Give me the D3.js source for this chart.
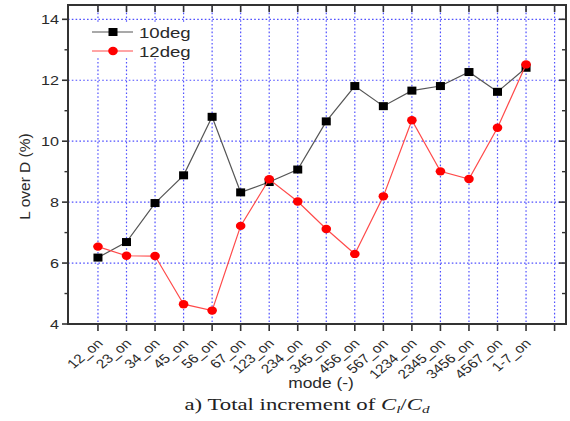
<!DOCTYPE html>
<html>
<head>
<meta charset="utf-8">
<script src="https://cdn.jsdelivr.net/npm/d3@7"></script>
<style>
  html, body { margin: 0; padding: 0; background: #fff; }
  svg { display: block; }
</style>
</head>
<body>
<script>
// Categories (switching modes) and the two lift-over-drag series
const modes = ["12_on", "23_on", "34_on", "45_on", "56_on", "67_on", "123_on", "234_on",
  "345_on", "456_on", "567_on", "1234_on", "2345_on", "3456_on", "4567_on", "1-7_on"];
const deg10 = [6.18, 6.69, 7.97, 8.88, 10.80, 8.32, 8.66, 9.07,
  10.65, 11.81, 11.15, 11.66, 11.81, 12.27, 11.62, 12.41];
const deg12 = [6.54, 6.24, 6.23, 4.65, 4.44, 7.22, 8.75, 8.02,
  7.12, 6.30, 8.19, 10.69, 9.01, 8.76, 10.44, 12.52];
const seriesNames = ["10deg", "12deg"];
const yMajorTicks = [4, 6, 8, 10, 12, 14];
const yMinorTicks = [5, 7, 9, 11, 13];

const W = 570, H = 421;
const pLeft = 68, pRight = 566, pTop = 5, pBottom = 324;
const sx = 1.2; // horizontal text stretch
const axisColor = "#333";
const textColor = "#2a2a2a";
const gridColor = "#5050ff";

const svg = d3.select("body").append("svg").attr("width", W).attr("height", H);

// x positions: one slot per mode plus an unlabeled trailing tick
const tickIdx = d3.range(modes.length + 1);
const x = d3.scaleLinear().domain([-1.05, 16.4]).range([pLeft, pRight]);
const y = d3.scaleLinear().domain([4, 14.47]).range([pBottom, pTop]);

// grid
const grid = svg.append("g").attr("stroke", gridColor).attr("stroke-width", 1.2)
  .attr("stroke-dasharray", "1.6,2.2").attr("fill", "none");
grid.selectAll("line.v").data(tickIdx).join("line").attr("class", "v")
  .attr("x1", d => x(d)).attr("x2", d => x(d)).attr("y1", pTop).attr("y2", pBottom);
grid.selectAll("line.h").data(yMajorTicks.filter(v => v > 4)).join("line").attr("class", "h")
  .attr("x1", pLeft).attr("x2", pRight).attr("y1", d => y(d)).attr("y2", d => y(d));

// legend background hides the grid behind it
svg.append("rect").attr("x", 72).attr("y", 22).attr("width", 124).attr("height", 36).attr("fill", "#fff");

// axes: bottom outward, left outward, top and right inward
const axes = svg.append("g").attr("stroke", axisColor);
axes.append("rect").attr("x", pLeft).attr("y", pTop).attr("width", pRight - pLeft).attr("height", pBottom - pTop)
  .attr("fill", "none").attr("stroke-width", 2);
axes.selectAll("line.bt").data(tickIdx).join("line").attr("class", "bt")
  .attr("x1", d => x(d)).attr("x2", d => x(d)).attr("y1", pBottom).attr("y2", pBottom + 7).attr("stroke-width", 1.6);
axes.selectAll("line.tt").data(tickIdx).join("line").attr("class", "tt")
  .attr("x1", d => x(d)).attr("x2", d => x(d)).attr("y1", pTop).attr("y2", pTop + 7).attr("stroke-width", 1.6);
axes.selectAll("line.lt").data(yMajorTicks).join("line").attr("class", "lt")
  .attr("x1", pLeft - 6).attr("x2", pLeft).attr("y1", d => y(d)).attr("y2", d => y(d)).attr("stroke-width", 1.6);
axes.selectAll("line.lm").data(yMinorTicks).join("line").attr("class", "lm")
  .attr("x1", pLeft - 3.5).attr("x2", pLeft).attr("y1", d => y(d)).attr("y2", d => y(d)).attr("stroke-width", 1.4);
axes.selectAll("line.rt").data(yMajorTicks).join("line").attr("class", "rt")
  .attr("x1", pRight - 7).attr("x2", pRight).attr("y1", d => y(d)).attr("y2", d => y(d)).attr("stroke-width", 1.6);
axes.selectAll("line.rm").data(yMinorTicks).join("line").attr("class", "rm")
  .attr("x1", pRight - 4).attr("x2", pRight).attr("y1", d => y(d)).attr("y2", d => y(d)).attr("stroke-width", 1.4);

const font = "Liberation Sans, Arial, sans-serif";

// y tick labels
svg.append("g").selectAll("text").data(yMajorTicks).join("text")
  .attr("transform", d => `translate(${pLeft - 9},${y(d) + 5}) scale(${sx},1)`)
  .attr("text-anchor", "end").attr("font-family", font).attr("font-size", 13.5)
  .attr("fill", textColor).text(d => d3.format("d")(d));

// x tick labels, slanted
svg.append("g").selectAll("text").data(modes).join("text")
  .attr("transform", (d, i) => `translate(${x(i) + 2},${pBottom + 17}) scale(${sx},1) rotate(-45)`)
  .attr("text-anchor", "end").attr("font-family", font).attr("font-size", 12.8)
  .attr("fill", textColor).attr("dy", "0.35em").text(d => d);

// axis titles
svg.append("text").attr("transform", `translate(30,${(pTop + pBottom) / 2 + 12}) rotate(-90)`)
  .attr("text-anchor", "middle").attr("font-family", font).attr("font-size", 15.5)
  .attr("fill", textColor).text("L over D (%)");
svg.append("text").attr("transform", `translate(321,388) scale(${sx},1)`)
  .attr("text-anchor", "middle").attr("font-family", font).attr("font-size", 14.5)
  .attr("fill", textColor).text("mode (-)");

// caption
const cap = svg.append("text").attr("transform", `translate(307,410) scale(1.38,1)`)
  .attr("text-anchor", "middle").attr("font-family", "Liberation Serif, Times New Roman, serif")
  .attr("font-size", 16.5).attr("fill", "#222");
cap.append("tspan").text("a) Total increment of ");
cap.append("tspan").attr("font-style", "italic").text("C");
cap.append("tspan").attr("font-style", "italic").attr("font-size", 11).attr("baseline-shift", "-3").text("l");
cap.append("tspan").text("/");
cap.append("tspan").attr("font-style", "italic").text("C");
cap.append("tspan").attr("font-style", "italic").attr("font-size", 11).attr("baseline-shift", "-3").text("d");

// series
const line = d3.line().x((d, i) => x(i)).y(d => y(d));
svg.append("path").datum(deg10).attr("d", line).attr("fill", "none")
  .attr("stroke", "#555").attr("stroke-width", 1.2);
svg.append("g").selectAll("rect").data(deg10).join("rect")
  .attr("x", (d, i) => x(i) - 4.5).attr("y", d => y(d) - 4).attr("width", 9).attr("height", 8)
  .attr("fill", "#000");

svg.append("path").datum(deg12).attr("d", line).attr("fill", "none")
  .attr("stroke", "#ff4a4a").attr("stroke-width", 1.2);
svg.append("g").selectAll("ellipse").data(deg12).join("ellipse")
  .attr("cx", (d, i) => x(i)).attr("cy", d => y(d)).attr("rx", 4.8).attr("ry", 4.2)
  .attr("fill", "#ff0000");

// legend
const leg = svg.append("g");
const legY = [32, 51];
leg.append("line").attr("x1", 92).attr("x2", 133).attr("y1", legY[0]).attr("y2", legY[0])
  .attr("stroke", "#555").attr("stroke-width", 1.2);
leg.append("rect").attr("x", 113 - 4.5).attr("y", legY[0] - 4).attr("width", 9).attr("height", 8).attr("fill", "#000");
leg.append("line").attr("x1", 92).attr("x2", 133).attr("y1", legY[1]).attr("y2", legY[1])
  .attr("stroke", "#ff4a4a").attr("stroke-width", 1.2);
leg.append("ellipse").attr("cx", 113).attr("cy", legY[1]).attr("rx", 4.8).attr("ry", 4.2).attr("fill", "#ff0000");
leg.selectAll("text").data(seriesNames).join("text")
  .attr("transform", (d, i) => `translate(139,${legY[i] + 5.5}) scale(${sx},1)`)
  .attr("font-family", font).attr("font-size", 15.5).attr("fill", textColor).text(d => d);
</script>
</body>
</html>
